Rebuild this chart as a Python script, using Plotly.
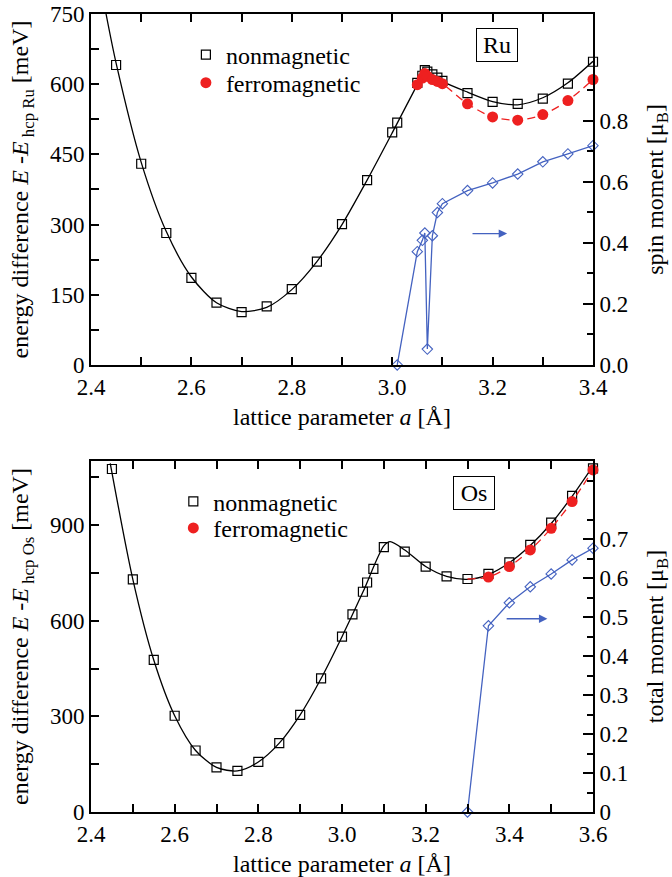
import plotly.graph_objects as go

# ---------------- Ru (top panel) ----------------
ru_nm_a = [2.45, 2.5, 2.55, 2.6, 2.65, 2.7, 2.75, 2.8, 2.85, 2.9, 2.95, 3.0, 3.01,
           3.05, 3.06, 3.065, 3.07, 3.08, 3.09, 3.1, 3.15, 3.2, 3.25, 3.3, 3.35, 3.4]
ru_nm_E = [641, 430, 282, 186, 133, 113, 125, 162, 221, 301, 395, 497, 518,
           603, 618, 630, 627, 621, 614, 607, 581, 562, 558, 569, 601, 648]

ru_fm_a = [3.05, 3.06, 3.065, 3.07, 3.08, 3.09, 3.1, 3.15, 3.2, 3.25, 3.3, 3.35, 3.4]
ru_fm_E = [599, 613, 623, 617, 610, 606, 601, 558, 530, 523, 535, 565, 610]

ru_mom_a = [3.01, 3.05, 3.06, 3.065, 3.07, 3.08, 3.09, 3.1, 3.15, 3.2, 3.25, 3.3, 3.35, 3.4]
ru_mom = [0.0, 0.371, 0.408, 0.432, 0.052, 0.423, 0.499, 0.528, 0.571, 0.596, 0.625, 0.665, 0.691, 0.718]

# fitted nonmagnetic curve (two branches meeting at the kink)
ru_fit1_a = [2.43, 2.45, 2.5, 2.55, 2.6, 2.65, 2.7, 2.75, 2.8, 2.85, 2.9, 2.95, 3.0, 3.065]
ru_fit1_E = [750, 645, 433, 285, 188, 133, 114, 123, 161, 221, 300, 395, 496, 630]
ru_fit2_a = [3.065, 3.1, 3.15, 3.2, 3.25, 3.3, 3.35, 3.4]
ru_fit2_E = [630, 606, 583, 563, 556, 571, 603, 649]

# ---------------- Os (bottom panel) ----------------
os_nm_a = [2.45, 2.5, 2.55, 2.6, 2.65, 2.7, 2.75, 2.8, 2.85, 2.9, 2.95, 3.0, 3.025,
           3.05, 3.06, 3.075, 3.1, 3.15, 3.2, 3.25, 3.3, 3.35, 3.4, 3.45, 3.5, 3.55, 3.6]
os_nm_E = [1076, 730, 477, 302, 193, 140, 129, 157, 216, 305, 419, 550, 620,
           691, 720, 763, 831, 817, 770, 739, 731, 747, 783, 838, 908, 992, 1078]

os_fm_a = [3.35, 3.4, 3.45, 3.5, 3.55, 3.6]
os_fm_E = [737, 770, 822, 890, 974, 1073]

os_mom_a = [3.3, 3.35, 3.4, 3.45, 3.5, 3.55, 3.6]
os_mom = [0.0, 0.478, 0.537, 0.578, 0.611, 0.647, 0.677]

os_fit_a = [2.446, 2.5, 2.55, 2.6, 2.65, 2.7, 2.75, 2.8, 2.85, 2.9, 2.95, 3.0, 3.05,
            3.1, 3.115, 3.15, 3.2, 3.25, 3.3, 3.35, 3.4, 3.45, 3.5, 3.55, 3.6]
os_fit_E = [1094, 730, 477, 302, 193, 140, 129, 157, 216, 305, 419, 550, 690,
            835, 848, 822, 770, 739, 730, 745, 782, 836, 905, 990, 1085]

FONT = "Liberation Serif"
RED = "#ee2020"
BLUE = "#4462c0"

fig = go.Figure()

def add_panel(xa, ya, ya2, leg_nm, leg_fm, fit_segments, nm_a, nm_E, fm_line_a, fm_line_E,
              fm_a, fm_E, mom_a, mom):
    for fa, fe in fit_segments:
        fig.add_trace(go.Scatter(x=fa, y=fe, mode="lines", xaxis=xa, yaxis=ya,
                                 line=dict(color="black", width=1.3, shape="spline", smoothing=0.8),
                                 showlegend=False, hoverinfo="skip"))
    fig.add_trace(go.Scatter(x=nm_a, y=nm_E, mode="markers", xaxis=xa, yaxis=ya,
                             name="nonmagnetic", legend=leg_nm, cliponaxis=False,
                             marker=dict(symbol="square-open", size=9, color="black",
                                         line=dict(width=1.2, color="black"))))
    fig.add_trace(go.Scatter(x=fm_line_a, y=fm_line_E, mode="lines", xaxis=xa, yaxis=ya,
                             line=dict(color=RED, width=1.3, dash="8px,5px", shape="spline", smoothing=0.8),
                             showlegend=False, hoverinfo="skip"))
    fig.add_trace(go.Scatter(x=fm_a, y=fm_E, mode="markers", xaxis=xa, yaxis=ya,
                             name="ferromagnetic", legend=leg_fm, cliponaxis=False,
                             marker=dict(symbol="circle", size=11, color=RED,
                                         line=dict(width=0))))
    fig.add_trace(go.Scatter(x=mom_a, y=mom, mode="lines+markers", xaxis=xa, yaxis=ya2,
                             showlegend=False, cliponaxis=False,
                             line=dict(color=BLUE, width=1.3),
                             marker=dict(symbol="diamond-open", size=8, color=BLUE,
                                         line=dict(width=1.1, color=BLUE))))

add_panel("x", "y", "y2", "legend", "legend2",
          [(ru_fit1_a, ru_fit1_E), (ru_fit2_a, ru_fit2_E)],
          ru_nm_a, ru_nm_E, ru_fm_a, ru_fm_E, ru_fm_a, ru_fm_E, ru_mom_a, ru_mom)

os_red_a = [os_nm_a[os_nm_a.index(os_mom_a[0])]] + os_fm_a
os_red_E = [os_nm_E[os_nm_a.index(os_mom_a[0])]] + os_fm_E
add_panel("x2", "y3", "y4", "legend3", "legend4", [(os_fit_a, os_fit_E)],
          os_nm_a, os_nm_E, os_red_a, os_red_E, os_fm_a, os_fm_E, os_mom_a, os_mom)

tickfont = dict(family=FONT, size=23, color="black")
titlefont = dict(family=FONT, size=24, color="black")

def xax(rng, anchor):
    return dict(range=rng, domain=[0, 1], anchor=anchor, showline=True, linewidth=2,
                linecolor="black", mirror="ticks", ticks="inside", ticklen=8, tickwidth=1.5,
                tickcolor="black", dtick=0.2, tick0=2.4, tickformat=".1f", automargin=False,
                ticklabeloverflow="allow",
                minor=dict(dtick=0.1, tick0=2.4, ticks="inside", ticklen=8, tickwidth=1.5,
                           tickcolor="black"),
                showgrid=False, zeroline=False, tickfont=tickfont,
                title=dict(text="lattice parameter <i>a</i> [Å]", font=titlefont, standoff=10))

def yax_left(rng, dom, anchor, dtick, mdtick, title):
    return dict(range=rng, domain=dom, anchor=anchor, showline=True, linewidth=2,
                linecolor="black", ticks="inside", ticklen=8, tickwidth=1.5, tickcolor="black",
                dtick=dtick, tick0=0, automargin=False, ticklabeloverflow="allow",
                minor=dict(dtick=mdtick, tick0=0, ticks="inside", ticklen=8, tickwidth=1.5,
                           tickcolor="black"),
                showgrid=False, zeroline=False, tickfont=tickfont,
                title=dict(text=title, font=titlefont, standoff=14))

def yax_right(rng, over, anchor, tv, mtv, fmt, title):
    return dict(range=rng, overlaying=over, side="right", anchor=anchor, showline=True,
                linewidth=2, linecolor="black", ticks="inside", ticklen=10, tickwidth=1.5,
                tickcolor="black", tickmode="array", tickvals=tv, tickformat=fmt,
                automargin=False, ticklabeloverflow="allow",
                minor=dict(tickmode="array", tickvals=mtv, ticks="inside", ticklen=6,
                           tickwidth=1.5, tickcolor="black"),
                showgrid=False, zeroline=False, tickfont=tickfont,
                title=dict(text=title, font=titlefont, standoff=18))

ru_right_ticks = [0.0, 0.2, 0.4, 0.6, 0.8]
ru_right_minor = [0.1, 0.3, 0.5, 0.7, 0.9]
os_right_ticks = [0, 0.1, 0.2, 0.3, 0.4, 0.5, 0.6, 0.7]
os_right_minor = [0.05, 0.15, 0.25, 0.35, 0.45, 0.55, 0.65, 0.75, 0.85]

def leg(x, y):
    return dict(x=x, y=y, xanchor="left", yanchor="middle", bgcolor="rgba(0,0,0,0)",
                font=dict(family=FONT, size=24, color="black"))

# the page's 8 px body margin is removed by the post script, so the figure fills the window
fig.update_layout(
    width=672, height=877,
    margin=dict(l=91, r=79, t=14, b=65),
    paper_bgcolor="white", plot_bgcolor="white",
    font=dict(family=FONT, color="black"),
    xaxis=xax([2.4, 3.4], "y"),
    yaxis=yax_left([0, 750], [0.5602, 1], "x", 150, 75,
                   "energy difference <i>E</i> -<i>E</i><sub> hcp Ru</sub> [meV]"),
    yaxis2=yax_right([0, 1.149], "y", "x", ru_right_ticks, ru_right_minor, ".1f",
                     "spin moment [μ<sub>B</sub>]"),
    xaxis2=xax([2.4, 3.6], "y3"),
    yaxis3=yax_left([0, 1101], [0, 0.4398], "x2", 300, 150,
                    "energy difference <i>E</i> -<i>E</i><sub> hcp Os</sub> [meV]"),
    yaxis4=yax_right([0, 0.9008], "y3", "x2", os_right_ticks, os_right_minor, "",
                     "total moment [μ<sub>B</sub>]"),
    legend=leg(0.189, 0.9486),
    legend2=leg(0.189, 0.9135),
    legend3=leg(0.164, 0.3888),
    legend4=leg(0.164, 0.3555),
    showlegend=True,
)

fig.add_annotation(x=3.209, y=683, xref="x", yref="y", text="Ru", showarrow=False,
                   font=dict(family=FONT, size=24, color="black"), width=36, height=28,
                   bordercolor="black", borderwidth=1, borderpad=2, bgcolor="white")
fig.add_annotation(x=3.316, y=1000, xref="x2", yref="y3", text="Os", showarrow=False,
                   font=dict(family=FONT, size=24, color="black"), width=36, height=28,
                   bordercolor="black", borderwidth=1, borderpad=2, bgcolor="white")

fig.add_annotation(x=3.229, y=0.43, xref="x", yref="y2", ax=3.157, ay=0.43,
                   axref="x", ayref="y2", text="", showarrow=True, arrowhead=2,
                   arrowsize=1.3, arrowwidth=1.3, arrowcolor=BLUE)
fig.add_annotation(x=3.491, y=0.496, xref="x2", yref="y4", ax=3.39, ay=0.496,
                   axref="x2", ayref="y4", text="", showarrow=True, arrowhead=2,
                   arrowsize=1.3, arrowwidth=1.3, arrowcolor=BLUE)

fig.write_html("out.html", config={"displayModeBar": False},
               post_script="document.body.style.margin='0px';document.body.style.overflow='hidden';")
